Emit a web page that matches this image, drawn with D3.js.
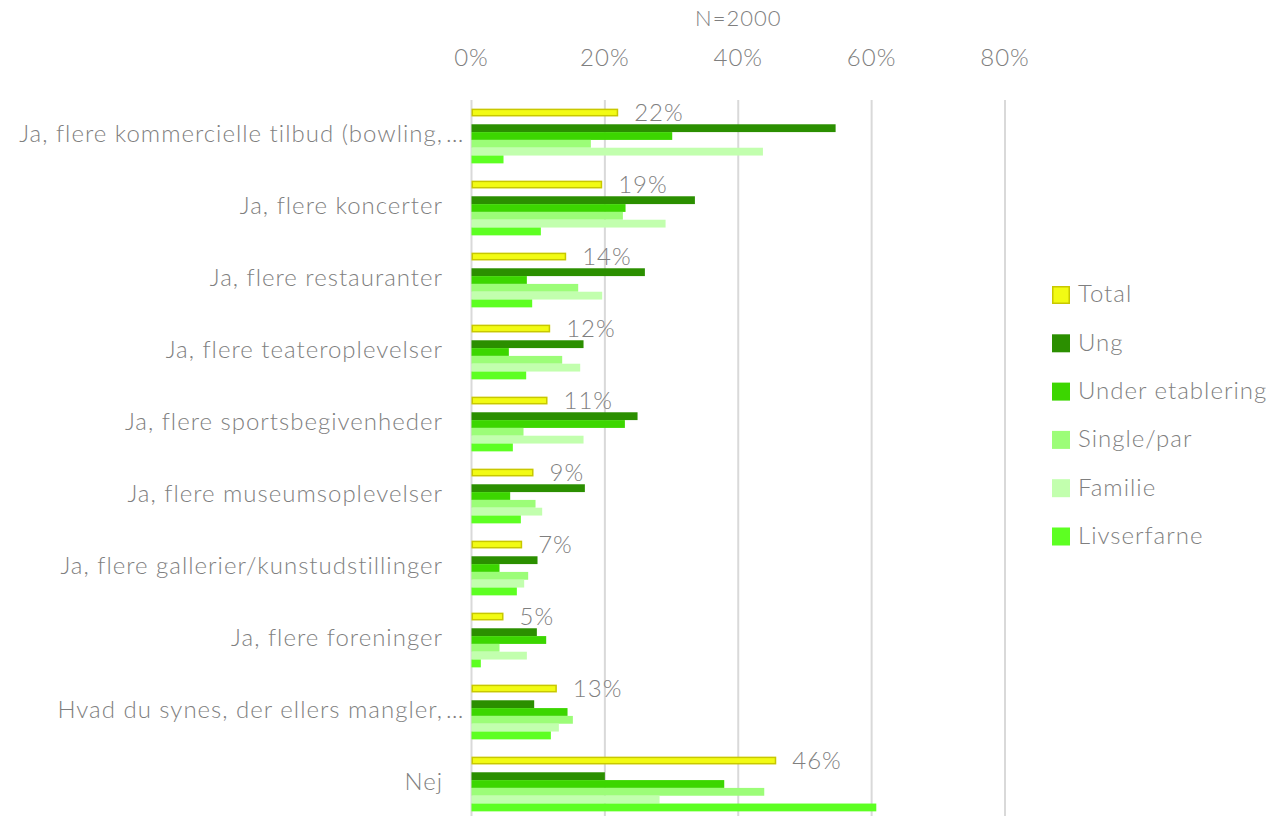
<!DOCTYPE html>
<html>
<head>
<meta charset="utf-8">
<script src="https://cdn.jsdelivr.net/npm/d3@7"></script>
<style>
  body { margin: 0; background: #fff; }
  text { font-family: "Source Sans Pro", Lato, "Open Sans", sans-serif; font-weight: 300; fill: #7f7f7f; letter-spacing: 1px; }
</style>
</head>
<body>
<script>
let w = 1271;
let h = 816;

// Data
let categories = [
  "Ja, flere kommercielle tilbud (bowling,…",
  "Ja, flere koncerter",
  "Ja, flere restauranter",
  "Ja, flere teateroplevelser",
  "Ja, flere sportsbegivenheder",
  "Ja, flere museumsoplevelser",
  "Ja, flere gallerier/kunstudstillinger",
  "Ja, flere foreninger",
  "Hvad du synes, der ellers mangler,…",
  "Nej"
];
let seriesNames = ["Total", "Ung", "Under etablering", "Single/par", "Familie", "Livserfarne"];
let total       = [0.22, 0.196, 0.142, 0.118, 0.114, 0.093, 0.076, 0.048, 0.128, 0.457];
let ung         = [0.546, 0.335, 0.260, 0.168, 0.249, 0.170, 0.099, 0.098, 0.094, 0.200];
let underEtab   = [0.301, 0.231, 0.083, 0.056, 0.230, 0.058, 0.042, 0.112, 0.144, 0.379];
let singlePar   = [0.179, 0.227, 0.160, 0.136, 0.078, 0.096, 0.085, 0.042, 0.152, 0.439];
let familie     = [0.437, 0.291, 0.196, 0.163, 0.168, 0.106, 0.079, 0.083, 0.131, 0.282];
let livserfarne = [0.048, 0.104, 0.091, 0.082, 0.062, 0.074, 0.068, 0.014, 0.119, 0.607];
let totalLabels = ["22%", "19%", "14%", "12%", "11%", "9%", "7%", "5%", "13%", "46%"];
let xTicks = [0, 0.2, 0.4, 0.6, 0.8];

let seriesValues = [total, ung, underEtab, singlePar, familie, livserfarne];
let colors = ["#f2fb14", "#2b8f00", "#3cd600", "#9cfd78", "#c2ffae", "#5dff22"];
// slot order inside a group (Excel leaves an empty slot after Total)
let slots = ["Total", "gap", "Ung", "Under etablering", "Single/par", "Familie", "Livserfarne"];

// Scales
let xScale = d3.scaleLinear()
  .domain([0, 0.8])
  .range([471.5, 1005]);

let yScale = d3.scaleBand()
  .domain(categories)
  .range([100, 820])
  .paddingInner(0.24)
  .paddingOuter(0.12);

let slotScale = d3.scaleBand()
  .domain(slots)
  .range([0, yScale.bandwidth()]);

let svg = d3.select("body")
  .append("svg")
  .attr("width", w)
  .attr("height", h);

// Gridlines
svg.selectAll("line.grid")
  .data(xTicks)
  .enter()
  .append("line")
  .attr("class", "grid")
  .attr("x1", d => xScale(d))
  .attr("x2", d => xScale(d))
  .attr("y1", 100)
  .attr("y2", h)
  .attr("stroke", "#d9d9d9")
  .attr("stroke-width", 2);

// Top axis labels
svg.selectAll("text.tick")
  .data(xTicks)
  .enter()
  .append("text")
  .attr("class", "tick")
  .attr("x", d => xScale(d))
  .attr("y", 66)
  .attr("text-anchor", "middle")
  .attr("font-size", "24px")
  .text(d => d3.format(".0%")(d));

svg.append("text")
  .attr("x", (xScale(0) + xScale(0.8)) / 2)
  .attr("y", 26)
  .attr("text-anchor", "middle")
  .attr("font-size", "22px")
  .text("N=2000");

// Category labels (Excel puts the ellipsis past the cut)
let catLabels = svg.selectAll("g.cat")
  .data(categories)
  .enter()
  .append("g")
  .attr("class", "cat");

catLabels.append("text")
  .attr("x", 443)
  .attr("y", d => yScale(d) + yScale.bandwidth() / 2)
  .attr("dy", "0.25em")
  .attr("text-anchor", "end")
  .attr("font-size", "24px")
  .text(d => d.replace("…", ""));

catLabels.filter(d => d.endsWith("…"))
  .append("text")
  .attr("x", 446)
  .attr("y", d => yScale(d) + yScale.bandwidth() / 2)
  .attr("dy", "0.25em")
  .attr("font-size", "24px")
  .text("…");

// Bars
seriesValues.forEach((vals, s) => {
  let name = seriesNames[s];
  let isTotal = s === 0;
  svg.selectAll("rect.s" + s)
    .data(vals)
    .enter()
    .append("rect")
    .attr("class", "s" + s)
    .attr("x", xScale(0) + (isTotal ? 0.75 : 0))
    .attr("y", (d, i) => yScale(categories[i]) + slotScale(name) + (isTotal ? 0.75 : 0))
    .attr("width", d => xScale(d) - xScale(0) - (isTotal ? 1.5 : 0))
    .attr("height", slotScale.bandwidth() - (isTotal ? 1.5 : 0))
    .attr("fill", colors[s])
    .attr("stroke", isTotal ? "#c8c800" : "none")
    .attr("stroke-width", isTotal ? 1.5 : 0);
});

// Total value labels
svg.selectAll("text.val")
  .data(total)
  .enter()
  .append("text")
  .attr("class", "val")
  .attr("x", d => xScale(d) + 16)
  .attr("y", (d, i) => yScale(categories[i]) + slotScale("Total") + slotScale.bandwidth() / 2)
  .attr("dy", "0.35em")
  .attr("font-size", "24px")
  .text((d, i) => totalLabels[i]);

// Legend
let legend = svg.selectAll("g.legend")
  .data(seriesNames)
  .enter()
  .append("g")
  .attr("class", "legend")
  .attr("transform", (d, i) => "translate(1052," + (286 + i * 48.3) + ")");

legend.append("rect")
  .attr("x", (d, i) => i === 0 ? 0.75 : 0)
  .attr("y", (d, i) => i === 0 ? 0.75 : 0)
  .attr("width", (d, i) => i === 0 ? 16.5 : 18)
  .attr("height", (d, i) => i === 0 ? 16.5 : 18)
  .attr("fill", (d, i) => colors[i])
  .attr("stroke", (d, i) => i === 0 ? "#c8c800" : "none")
  .attr("stroke-width", 1.5);

legend.append("text")
  .attr("x", 26)
  .attr("y", 8)
  .attr("dy", "0.35em")
  .attr("font-size", "24px")
  .text(d => d);
</script>
</body>
</html>
